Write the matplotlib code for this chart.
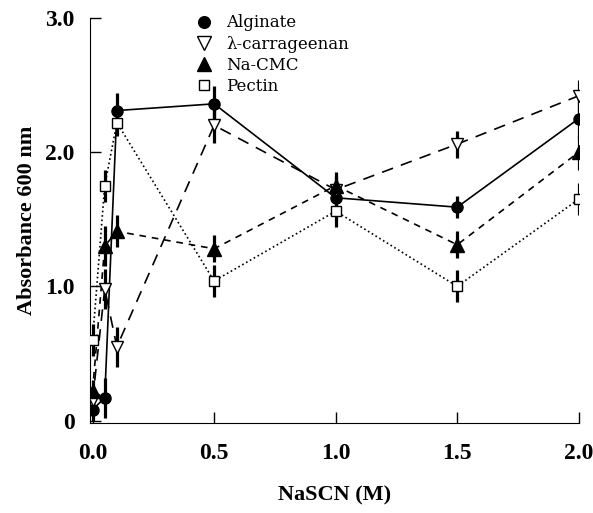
import matplotlib.pyplot as plt
from matplotlib.lines import Line2D

# NaSCN concentration (M)
nascn = [0.0, 0.05, 0.1, 0.5, 1.0, 1.5, 2.0]

alginate = [0.08, 0.17, 2.31, 2.36, 1.66, 1.59, 2.25]
carrageenan = [0.15, 0.98, 0.55, 2.20, 1.72, 2.06, 2.42]
na_cmc = [0.22, 1.30, 1.41, 1.28, 1.75, 1.31, 2.00]
pectin = [0.60, 1.75, 2.22, 1.04, 1.56, 1.00, 1.65]

alginate_err = [0.08, 0.15, 0.13, 0.13, 0.12, 0.08, 0.15]
carrageenan_err = [0.08, 0.15, 0.15, 0.13, 0.10, 0.10, 0.12]
na_cmc_err = [0.08, 0.15, 0.12, 0.10, 0.10, 0.10, 0.13]
pectin_err = [0.12, 0.12, 0.10, 0.12, 0.12, 0.12, 0.12]

labels = ['Alginate', 'λ-carrageenan', 'Na-CMC', 'Pectin']

fig = plt.figure(figsize=(5.93, 5.13), dpi=100)
ax = fig.add_axes([0.152, 0.175, 0.824, 0.79])

series = [
    (alginate, alginate_err, 'o', 'k', '-', 8),
    (carrageenan, carrageenan_err, 'v', 'white', (0, (7, 5)), 9),
    (na_cmc, na_cmc_err, '^', 'k', (0, (4, 3.5)), 10),
    (pectin, pectin_err, 's', 'white', ':', 7.5),
]

for y, e, m, fc, ls, ms in series:
    ax.errorbar(nascn, y, yerr=e, fmt='none', ecolor='k', elinewidth=2.3,
                capsize=0, zorder=2)
    ax.plot(nascn, y, color='k', linestyle=ls, linewidth=1.2, zorder=3)
    ax.plot(nascn, y, linestyle='none', marker=m, markersize=ms,
            markerfacecolor=fc, markeredgecolor='k', markeredgewidth=1.0,
            zorder=4)

handles = [Line2D([], [], linestyle='none', marker=m, markersize=ms * 1.05,
                  markerfacecolor=fc, markeredgecolor='k')
           for _, _, m, fc, _, ms in series]
leg = ax.legend(handles, labels, loc='upper left', bbox_to_anchor=(0.21, 1.025),
                frameon=False, handlelength=0.6, handletextpad=1.0,
                labelspacing=0.25, borderaxespad=0,
                prop={'family': 'DejaVu Serif', 'size': 12})

ax.set_xlim(-0.01, 2.0)
ax.set_ylim(-0.02, 3.0)
ax.set_xticks([0.0, 0.5, 1.0, 1.5, 2.0])
ax.set_xticklabels(['0.0', '0.5', '1.0', '1.5', '2.0'])
ax.set_yticks([0, 1, 2, 3])
ax.set_yticklabels(['0', '1.0', '2.0', '3.0'])
ax.spines['top'].set_visible(False)
ax.spines['right'].set_visible(False)
ax.tick_params(direction='in', length=8, width=1)
ax.tick_params(axis='x', pad=14)
ax.tick_params(axis='y', pad=11)
for t in ax.get_xticklabels() + ax.get_yticklabels():
    t.set_fontfamily('Liberation Serif')
    t.set_fontweight('bold')
    t.set_fontsize(17)

ax.set_xlabel('NaSCN (M)', family='Liberation Serif', fontweight='bold',
              fontsize=16, labelpad=16)
ax.set_ylabel('Absorbance 600 nm', family='Liberation Serif', fontweight='bold',
              fontsize=16, labelpad=6)

fig.savefig('out.png', dpi=100)
